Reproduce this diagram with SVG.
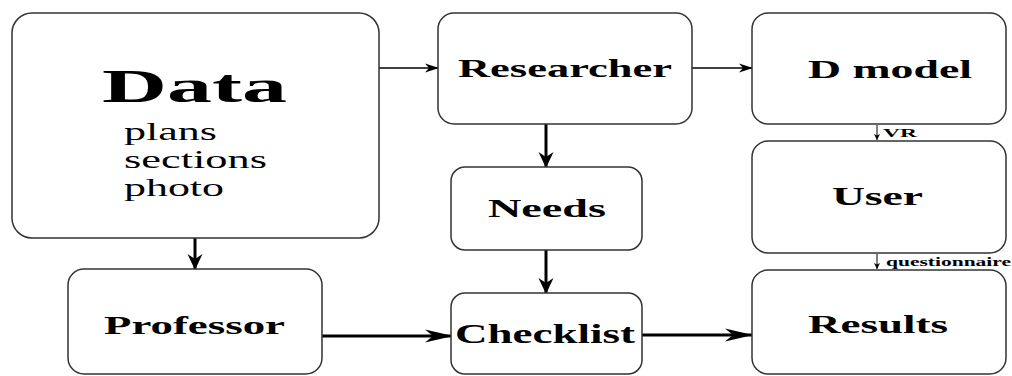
<svg xmlns="http://www.w3.org/2000/svg" width="1012" height="376" viewBox="0 0 1012 376">
<style>
.box{fill:#fff;stroke:#333;stroke-width:1.5}
.lbl{font-family:"Liberation Serif","Times New Roman",serif;font-weight:bold;fill:#000}
.sub{font-family:"Liberation Serif","Times New Roman",serif;fill:#000}
.thin{stroke:#000;stroke-width:1.5;fill:none}
.thick{stroke:#000;stroke-width:3;fill:none}
</style>
<defs>
<marker id="hs" markerUnits="userSpaceOnUse" markerWidth="14" markerHeight="10" refX="13" refY="5" orient="auto" viewBox="0 0 14 10">
<path d="M0,0.5 L14,5 L0,9.5 L4,5 z" fill="#000"/>
</marker>
<marker id="hl" markerUnits="userSpaceOnUse" markerWidth="28" markerHeight="14" refX="27" refY="7" orient="auto" viewBox="0 0 28 14">
<path d="M0,0.5 L28,7 L0,13.5 L8,7 z" fill="#000"/>
</marker>
<marker id="hv" markerUnits="userSpaceOnUse" markerWidth="16" markerHeight="16" refX="15" refY="8" orient="auto" viewBox="0 0 16 16">
<path d="M0,0.5 L16,8 L0,15.5 L5,8 z" fill="#000"/>
</marker>
<marker id="ht" markerUnits="userSpaceOnUse" markerWidth="6" markerHeight="6" refX="6" refY="3" orient="auto" viewBox="0 0 6 6">
<path d="M0,0 L6,3 L0,6 L1.5,3 z" fill="#000"/>
</marker>
</defs>
<g id="connectors">
<line class="thin" x1="379" y1="68" x2="438" y2="68" marker-end="url(#hs)"/>
<line class="thin" x1="692" y1="68" x2="752" y2="68" marker-end="url(#hs)"/>
<line class="thick" x1="195" y1="238" x2="195" y2="269" marker-end="url(#hv)"/>
<line class="thick" x1="546" y1="124" x2="546" y2="167" marker-end="url(#hv)"/>
<line class="thick" x1="546" y1="250" x2="546" y2="293" marker-end="url(#hv)"/>
<line class="thick" x1="322" y1="336" x2="452" y2="336" marker-end="url(#hl)"/>
<line class="thick" x1="642" y1="335" x2="752" y2="335" marker-end="url(#hl)"/>
<line stroke="#000" stroke-width="1" x1="877" y1="125" x2="877" y2="140" marker-end="url(#ht)"/>
<line stroke="#000" stroke-width="1" x1="877" y1="254" x2="877" y2="269" marker-end="url(#ht)"/>
<text class="lbl" x="883" y="137" font-size="12" textLength="34" lengthAdjust="spacingAndGlyphs">VR</text>
<text class="lbl" x="886" y="266" font-size="12" textLength="125" lengthAdjust="spacingAndGlyphs">questionnaire</text>
</g>
<g id="data">
<rect class="box" x="12" y="13" width="367" height="225" rx="20"/>
<text class="lbl" x="102" y="102" font-size="46" textLength="185" lengthAdjust="spacingAndGlyphs">Data</text>
<text class="sub" x="124" y="140" font-size="26" textLength="93" lengthAdjust="spacingAndGlyphs">plans</text>
<text class="sub" x="124" y="168" font-size="26" textLength="143" lengthAdjust="spacingAndGlyphs">sections</text>
<text class="sub" x="124" y="196" font-size="26" textLength="100" lengthAdjust="spacingAndGlyphs">photo</text>
</g>
<g id="researcher">
<rect class="box" x="438" y="13" width="254" height="111" rx="16"/>
<text class="lbl" x="458" y="77" font-size="26" textLength="214" lengthAdjust="spacingAndGlyphs">Researcher</text>
</g>
<g id="dmodel">
<rect class="box" x="752" y="13" width="254" height="111" rx="16"/>
<text class="lbl" x="808" y="78" font-size="26" textLength="164" lengthAdjust="spacingAndGlyphs">D model</text>
</g>
<g id="user">
<rect class="box" x="752" y="141" width="254" height="112" rx="16"/>
<text class="lbl" x="832" y="205" font-size="25" textLength="91" lengthAdjust="spacingAndGlyphs">User</text>
</g>
<g id="results">
<rect class="box" x="752" y="270" width="254" height="104" rx="16"/>
<text class="lbl" x="808" y="333" font-size="26" textLength="140" lengthAdjust="spacingAndGlyphs">Results</text>
</g>
<g id="needs">
<rect class="box" x="451" y="167" width="191" height="83" rx="14"/>
<text class="lbl" x="488" y="217" font-size="25" textLength="118" lengthAdjust="spacingAndGlyphs">Needs</text>
</g>
<g id="checklist">
<rect class="box" x="451" y="293" width="191" height="81" rx="14"/>
<text class="lbl" x="455" y="343" font-size="27" textLength="180" lengthAdjust="spacingAndGlyphs">Checklist</text>
</g>
<g id="professor">
<rect class="box" x="68" y="269" width="254" height="105" rx="16"/>
<text class="lbl" x="104" y="334" font-size="26" textLength="181" lengthAdjust="spacingAndGlyphs">Professor</text>
</g>
</svg>
